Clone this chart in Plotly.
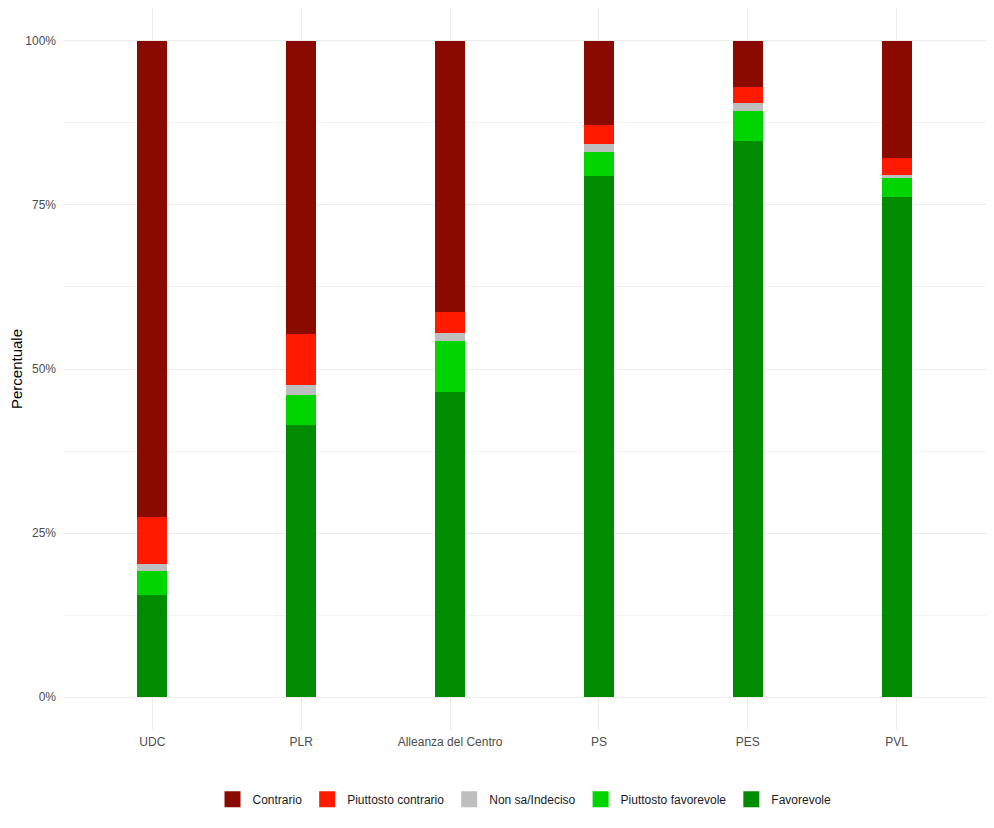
import plotly.graph_objects as go

# Data (percent per party)
partiti = ["UDC", "PLR", "Alleanza del Centro", "PS", "PES", "PVL"]

favorevole = [15.6, 41.5, 46.5, 79.4, 84.8, 76.2]
piuttosto_favorevole = [3.6, 4.5, 7.7, 3.7, 4.5, 3.0]
non_sa = [1.1, 1.6, 1.3, 1.2, 1.3, 0.3]
piuttosto_contrario = [7.1, 7.7, 3.2, 2.9, 2.3, 2.6]
contrario = [72.6, 44.7, 41.3, 12.8, 7.1, 17.9]

# stacked bottom -> top
serie = [
    ("Favorevole", favorevole, "#008C00"),
    ("Piuttosto favorevole", piuttosto_favorevole, "#00D500"),
    ("Non sa/Indeciso", non_sa, "#BEBEBE"),
    ("Piuttosto contrario", piuttosto_contrario, "#FF1A00"),
    ("Contrario", contrario, "#8B0A00"),
]

fig = go.Figure()
for nome, valori, colore in serie:
    fig.add_trace(go.Bar(
        x=partiti, y=valori, name=nome, legendgroup=nome, showlegend=False,
        marker=dict(color=colore, line=dict(width=0)),
        width=0.2,
    ))

# legend keys: big squares like ggplot
for nome, valori, colore in serie:
    fig.add_trace(go.Scatter(
        x=[None], y=[None], name=nome, legendgroup=nome, mode="markers",
        marker=dict(symbol="square", size=22, color=colore),
    ))

# page body adds ~8px offset, so the figure is a bit smaller than the window
fig.update_layout(
    barmode="stack",
    width=986, height=820,
    margin=dict(l=55, r=8, t=0, b=98, autoexpand=False),
    plot_bgcolor="white",
    paper_bgcolor="white",
    font=dict(family="Liberation Sans, Arial, sans-serif", size=12, color="#4D4D4D"),
    legend=dict(
        orientation="h", traceorder="reversed", itemsizing="trace",
        x=0.5, xanchor="center", y=-0.076, yanchor="top",
        font=dict(size=12, color="#1A1A1A"),
    ),
    xaxis=dict(
        showgrid=True, gridcolor="#EBEBEB", gridwidth=1,
        tickfont=dict(size=12, color="#4D4D4D"), ticklabelstandoff=3,
        ticks="", showline=False, zeroline=False,
        range=[-0.6, 5.6], automargin=False,
    ),
    yaxis=dict(
        title=dict(text="Percentuale", font=dict(size=15, color="#000000"), standoff=8),
        range=[-5, 105],
        tickvals=[0, 25, 50, 75, 100],
        ticktext=["0%", "25%", "50%", "75%", "100%"],
        tickfont=dict(size=12, color="#4D4D4D"), ticklabelstandoff=6,
        showgrid=True, gridcolor="#EBEBEB", gridwidth=1.2,
        minor=dict(tickvals=[12.5, 37.5, 62.5, 87.5], showgrid=True,
                   gridcolor="#F2F2F2", gridwidth=0.6),
        zeroline=False, ticks="", showline=False, automargin=False,
    ),
)

fig.write_html("out.html")
